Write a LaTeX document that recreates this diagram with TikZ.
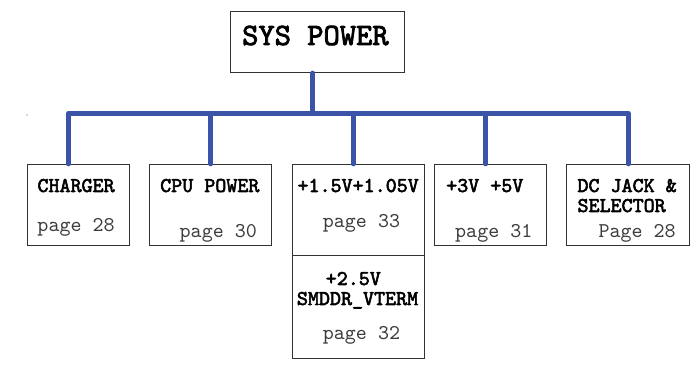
\documentclass[tikz,border=0pt]{standalone}
\usepackage{fontspec}
\newfontfamily\cour{lmmono10-regular.otf}[BoldFont=lmmono10-regular.otf,BoldFeatures={FakeBold=2.6}]
\definecolor{busblue}{RGB}{60,84,168}
\definecolor{boxline}{RGB}{50,50,50}
\definecolor{pagegray}{RGB}{60,60,60}
\begin{document}
\begin{tikzpicture}[x=1pt,y=-1pt,
  box/.style={draw=boxline, line width=0.9pt, fill=white, inner sep=0pt, minimum width=#1},
  bus/.style={draw=busblue, line width=5pt, line cap=round, line join=round},
  ttl/.style={anchor=base west, inner sep=0pt, font=\cour\bfseries\fontsize{21}{24}\selectfont, text=black},
  pg/.style={anchor=base west, inner sep=0pt, font=\cour\fontsize{21}{24}\selectfont, text=pagegray}]
\useasboundingbox (0,0) rectangle (697,366);
% boxes
\node[box=173.3, minimum height=61] (sys) at (317.3,42.2) {};
\node[box=102, minimum height=81.4] (charger) at (78.3,205) {};
\node[box=122.4, minimum height=81.4] (cpu) at (210.5,205) {};
\node[box=132, minimum height=91.4] (v15) at (358.3,210) {};
\node[box=132, minimum height=102.6] (v25) at (358.3,307) {};
\node[box=112.4, minimum height=81.4] (v3) at (490.5,205) {};
\node[box=122.6, minimum height=81.4] (dc) at (628,205) {};
% bus
\coordinate (busy) at (0,113.3);
\coordinate (dch) at (68.3,0);
\coordinate (dcpu) at (210.7,0);
\coordinate (dv15) at (353.3,0);
\coordinate (dv3) at (485.7,0);
\coordinate (ddc) at (628.3,0);
\coordinate (dsys) at (312.7,0);
\draw[bus] (dch |- charger.north) -- (dch |- busy) -- (ddc |- busy) -- (ddc |- dc.north);
\draw[bus] (dsys |- sys.south) -- (dsys |- busy);
\draw[bus] (dcpu |- busy) -- (dcpu |- cpu.north);
\draw[bus] (dv15 |- busy) -- (dv15 |- v15.north);
\draw[bus] (dv3 |- busy) -- (dv3 |- v3.north);
% tiny mark
\fill[black!70] (27,115) circle (0.6);
% texts
\node[ttl, font=\cour\bfseries\fontsize{31}{34}\selectfont] (tsys) at (242,45) {SYS POWER};
\node[ttl] (tch) at (37.3,192) {CHARGER};
\node[pg] (pch) at (37.3,232) {page 28};
\node[ttl] (tcpu) at (160,192) {CPU POWER};
\node[pg] (pcpu) at (179.5,238) {page 30};
\node[ttl] (tv15) at (297.3,192) {+1.5V+1.05V};
\node[pg] (pv15) at (322.7,228) {page 33};
\node[ttl, anchor=base] (tv25a) at (353.3,285) {+2.5V};
\node[ttl] (tv25b) at (296.7,305) {SMDDR\_VTERM};
\node[pg] (pv25) at (322.7,340) {page 32};
\node[ttl] (tv3) at (446,192) {+3V +5V};
\node[pg] (pv3) at (455,238) {page 31};
\node[ttl] (tdc1) at (577.3,192) {DC JACK \&};
\node[ttl] (tdc2) at (577.3,212) {SELECTOR};
\node[pg] (pdc) at (598.3,238) {Page 28};
\end{tikzpicture}
\end{document}
